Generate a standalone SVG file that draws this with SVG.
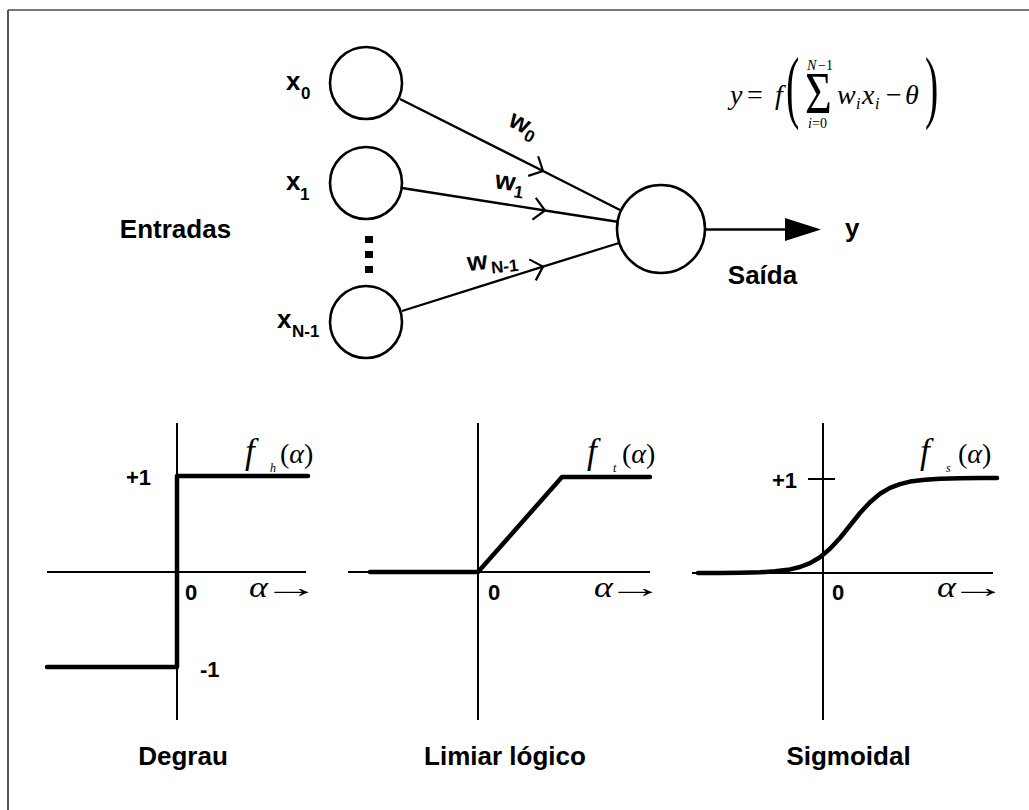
<svg xmlns="http://www.w3.org/2000/svg" width="1029" height="810" viewBox="0 0 1029 810">
<style>
.lbl{font-family:"Liberation Sans",Arial,sans-serif;font-weight:bold;fill:#000}
.big{font-size:26px}
.mid{font-size:22px}
.sub{font-size:17px}
.math{font-family:"Liberation Serif","Times New Roman",serif;fill:#000}
.it{font-style:italic}
.node{fill:#fff;stroke:#000;stroke-width:2.6}
.edge{fill:none;stroke:#000;stroke-width:2.3}
.axis{fill:none;stroke:#000;stroke-width:2}
.curve{fill:none;stroke:#000;stroke-width:4.5;stroke-linejoin:round;stroke-linecap:round}
</style>
<defs>
<marker id="chev" markerUnits="userSpaceOnUse" markerWidth="30" markerHeight="30" viewBox="-15 -15 30 30" refX="0" refY="0" orient="auto">
<path d="M-11,-11 L0,0 L-11,11" fill="none" stroke="#000" stroke-width="2.2"/>
</marker>
</defs>
<rect width="1029" height="810" fill="#fff"/>
<g id="frame">
<line x1="8" y1="10" x2="1029" y2="10" stroke="#777" stroke-width="1.8"/>
<line x1="8" y1="10" x2="8" y2="810" stroke="#444" stroke-width="1.8"/>
</g>
<g id="connectors">
<polyline class="edge" points="400,99 543,171 620,210" marker-mid="url(#chev)"/>
<polyline class="edge" points="402,188 545,210.5 619,222" marker-mid="url(#chev)"/>
<polyline class="edge" points="402,311 543,266.6 619,243" marker-mid="url(#chev)"/>
<line class="edge" x1="705" y1="229.5" x2="788" y2="229.5"/>
<polygon points="785,218 821,229.5 785,241" fill="#000"/>
</g>
<g id="node-x0">
<circle class="node" cx="366" cy="83" r="36"/>
<text class="lbl big" x="286" y="90">x<tspan class="sub" x="301" y="99">0</tspan></text>
</g>
<g id="node-x1">
<circle class="node" cx="366" cy="183" r="36"/>
<text class="lbl big" x="286" y="190">x<tspan class="sub" x="300" y="200">1</tspan></text>
</g>
<g id="dots">
<rect x="365" y="236" width="8" height="7" fill="#000"/>
<rect x="365" y="251" width="8" height="7" fill="#000"/>
<rect x="365" y="266" width="8" height="7" fill="#000"/>
</g>
<g id="node-xn">
<circle class="node" cx="366" cy="322" r="36"/>
<text class="lbl big" x="277" y="328">x<tspan class="sub" x="292" y="337">N-1</tspan></text>
</g>
<g id="node-out">
<circle class="node" cx="661" cy="229" r="44"/>
</g>
<g id="weights">
<text class="lbl big" transform="translate(507,125) rotate(28)">w<tspan class="sub" dy="5">0</tspan></text>
<text class="lbl big" transform="translate(494,188) rotate(9)">w<tspan class="sub" dy="6">1</tspan></text>
<text class="lbl big" transform="translate(468,271) rotate(-6)">w<tspan class="sub" dx="3" dy="5">N-1</tspan></text>
</g>
<g id="labels">
<text class="lbl big" x="175.5" y="238" text-anchor="middle">Entradas</text>
<text class="lbl big" x="762.5" y="284" text-anchor="middle">Saída</text>
<text class="lbl big" x="845" y="237">y</text>
</g>
<g id="formula" class="math">
<text class="it" x="730" y="104" font-size="28">y</text>
<text x="747" y="104" font-size="28">=</text>
<text class="it" x="775" y="104" font-size="28">f</text>
<text transform="translate(786,113) scale(0.5,1)" font-size="80">(</text>
<text class="it" x="807" y="70" font-size="14">N</text>
<text x="818" y="70" font-size="14">−1</text>
<text transform="translate(805,113) scale(1,1.3)" font-size="46">Σ</text>
<text class="it" x="808" y="128" font-size="14">i</text>
<text x="812" y="128" font-size="14">=0</text>
<text class="it" x="837" y="104" font-size="28">w</text>
<text class="it" x="856" y="109" font-size="16">i</text>
<text class="it" x="862" y="104" font-size="28">x</text>
<text class="it" x="875" y="109" font-size="16">i</text>
<text x="886" y="104" font-size="28">−</text>
<text class="it" x="905" y="104" font-size="28">θ</text>
<text transform="translate(925,113) scale(0.5,1)" font-size="80">)</text>
</g>
<g id="graph-degrau">
<line class="axis" x1="177" y1="423" x2="177" y2="720"/>
<line class="axis" x1="47" y1="572" x2="306" y2="572"/>
<polyline class="curve" points="47,667 177,667 177,476 308,476"/>
<text class="lbl mid" x="126" y="485">+1</text>
<text class="lbl mid" x="185" y="600">0</text>
<text class="lbl mid" x="200" y="677">-1</text>
<text class="math it" transform="translate(249,597) scale(1.2,1)" font-size="30">α</text>
<text class="math" transform="translate(263,597) scale(2.05,1)" font-size="28">→</text>
<text class="math it" x="245" y="463" font-size="35">f</text>
<text class="math it" x="270" y="472" font-size="12">h</text>
<text class="math" x="280" y="463" font-size="28">(<tspan class="it">α</tspan>)</text>
<text class="lbl big" x="183" y="765" text-anchor="middle">Degrau</text>
</g>
<g id="graph-limiar">
<line class="axis" x1="478" y1="423" x2="478" y2="720"/>
<line class="axis" x1="348" y1="572" x2="650" y2="572"/>
<polyline class="curve" points="370,572 478,572 562,477 650,477"/>
<text class="lbl mid" x="488" y="600">0</text>
<text class="math it" transform="translate(594,597) scale(1.2,1)" font-size="30">α</text>
<text class="math" transform="translate(607,597) scale(2.05,1)" font-size="28">→</text>
<text class="math it" x="587" y="463" font-size="35">f</text>
<text class="math it" x="613" y="472" font-size="12">t</text>
<text class="math" x="622" y="463" font-size="28">(<tspan class="it">α</tspan>)</text>
<text class="lbl big" x="505" y="765" text-anchor="middle">Limiar lógico</text>
</g>
<g id="graph-sigmoidal">
<line class="axis" x1="823" y1="423" x2="823" y2="720"/>
<line class="axis" x1="692" y1="573" x2="993" y2="573"/>
<line class="axis" x1="808" y1="479" x2="835" y2="479"/>
<polyline class="curve" points="698,573 720,572.9 740,572.7 760,572.3 775,571.3 790,569.4 800,567 810,563.1 820,557.2 830,548.8 840,538 850,525.5 860,513 870,502.2 880,493.8 890,487.9 900,484.1 910,481.6 925,479.7 940,478.8 960,478.3 980,478.1 997,478"/>
<text class="lbl mid" x="772" y="488">+1</text>
<text class="lbl mid" x="832" y="600">0</text>
<text class="math it" transform="translate(937,597) scale(1.2,1)" font-size="30">α</text>
<text class="math" transform="translate(950,597) scale(2.05,1)" font-size="28">→</text>
<text class="math it" x="920" y="463" font-size="35">f</text>
<text class="math it" x="946" y="472" font-size="12">s</text>
<text class="math" x="958" y="463" font-size="28">(<tspan class="it">α</tspan>)</text>
<text class="lbl big" x="848.5" y="765" text-anchor="middle">Sigmoidal</text>
</g>
</svg>
